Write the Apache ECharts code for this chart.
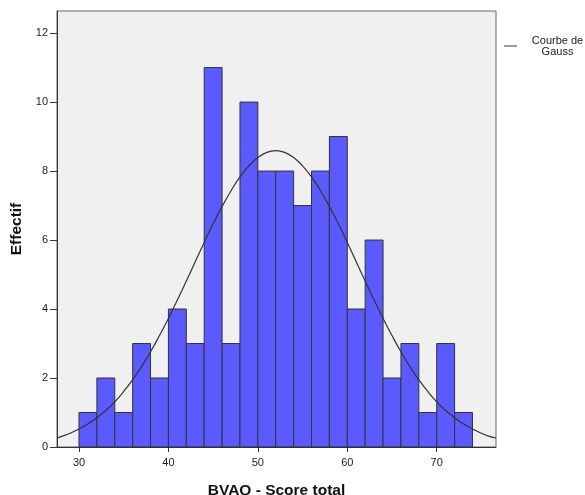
<!DOCTYPE html>
<html>
<head>
<meta charset="utf-8">
<script src="https://cdn.jsdelivr.net/npm/echarts@6/dist/echarts.min.js"></script>
<style>html,body{margin:0;padding:0;background:#fff;}#c{width:585px;height:495px;}</style>
</head>
<body>
<div id="c"></div>
<script>
// Histogram bins (start of each 2-point bin) and counts
const binStarts = [30,32,34,36,38,40,42,44,46,48,50,52,54,56,58,60,62,64,66,68,70,72];
const binWidth = 2;
const counts = [1,2,1,3,2,4,3,11,3,10,8,8,7,8,9,4,6,2,3,1,3,1];
// Gaussian curve
const curveX = [27.54,28,29,30,31,32,33,34,35,36,37,38,39,40,41,42,43,44,45,46,47,48,49,50,51,52,53,54,55,56,57,58,59,60,61,62,63,64,65,66,67,68,69,70,71,72,73,74,75,76,76.63];
const curveY = [0.26,0.30,0.40,0.52,0.67,0.85,1.06,1.31,1.61,1.95,2.33,2.76,3.23,3.73,4.26,4.81,5.37,5.93,6.47,6.97,7.43,7.83,8.15,8.39,8.54,8.59,8.54,8.39,8.15,7.83,7.43,6.97,6.47,5.93,5.37,4.81,4.26,3.73,3.23,2.76,2.33,1.95,1.61,1.31,1.06,0.85,0.67,0.52,0.40,0.30,0.26];
const xTicks = [30,40,50,60,70];
const yTicks = [0,2,4,6,8,10,12];

const chart = echarts.init(document.getElementById('c'), null, {renderer:'canvas'});
const font = 'Liberation Sans, Arial, sans-serif';
const histData = binStarts.map((s,i)=>[s, s+binWidth, counts[i]]);
const curveData = curveX.map((x,i)=>[x, curveY[i]]);

chart.setOption({
  animation:false,
  backgroundColor:'#fff',
  grid:{left:57, top:11, right:89, bottom:48, show:true, backgroundColor:'#F0F0F0', borderColor:'#666', borderWidth:1, outerBoundsMode:'none', containLabel:false},
  legend:{
    left:499, top:30, orient:'vertical',
    itemWidth:13, itemHeight:1, icon:'rect',
    data:[{name:'Courbe de\nGauss', itemStyle:{color:'#333'}}],
    formatter:function(){ return '{a|Courbe de}\n{a|Gauss}'; },
    textStyle:{fontFamily:font, fontSize:11, color:'#222', rich:{a:{fontFamily:font, fontSize:11, color:'#222', align:'center', width:71, lineHeight:11}}},
    itemGap:4
  },
  xAxis:{
    type:'value', min:27.54, max:76.63,
    name:'BVAQ - Score total', nameLocation:'middle', nameGap:36,
    nameTextStyle:{fontFamily:font, fontSize:15.5, fontWeight:'bold', color:'#111'},
    axisLine:{show:true, onZero:false, lineStyle:{color:'#333', width:1}},
    axisTick:{show:true, inside:false, length:5, customValues:xTicks, lineStyle:{color:'#333'}},
    axisLabel:{customValues:xTicks, fontFamily:font, fontSize:11, color:'#222', margin:10},
    splitLine:{show:false}
  },
  yAxis:{
    type:'value', min:0, max:12.64,
    name:'Effectif', nameLocation:'middle', nameGap:32, nameRotate:90,
    nameTextStyle:{fontFamily:font, fontSize:15.5, fontWeight:'bold', color:'#111'},
    axisLine:{show:true, lineStyle:{color:'#333', width:1}},
    axisTick:{show:true, inside:false, length:7, customValues:yTicks, lineStyle:{color:'#333'}},
    axisLabel:{customValues:yTicks, fontFamily:font, fontSize:11, color:'#222', margin:9},
    splitLine:{show:false}
  },
  series:[
    {
      type:'custom', name:'hist',
      data:histData,
      encode:{x:[0,1], y:2},
      renderItem:function(params, api){
        const p0 = api.coord([api.value(0), api.value(2)]);
        const p1 = api.coord([api.value(1), 0]);
        return {type:'rect', shape:{x:p0[0], y:p0[1], width:p1[0]-p0[0], height:p1[1]-p0[1]},
          style:{fill:'#5A5AFF', stroke:'#333', lineWidth:1}};
      },
      z:2
    },
    {
      type:'line', name:'Courbe de\nGauss', data:curveData, smooth:true,
      showSymbol:false, symbol:'none',
      lineStyle:{color:'#333', width:1.2},
      itemStyle:{color:'#333'},
      z:5
    }
  ]
});
</script>
</body>
</html>
